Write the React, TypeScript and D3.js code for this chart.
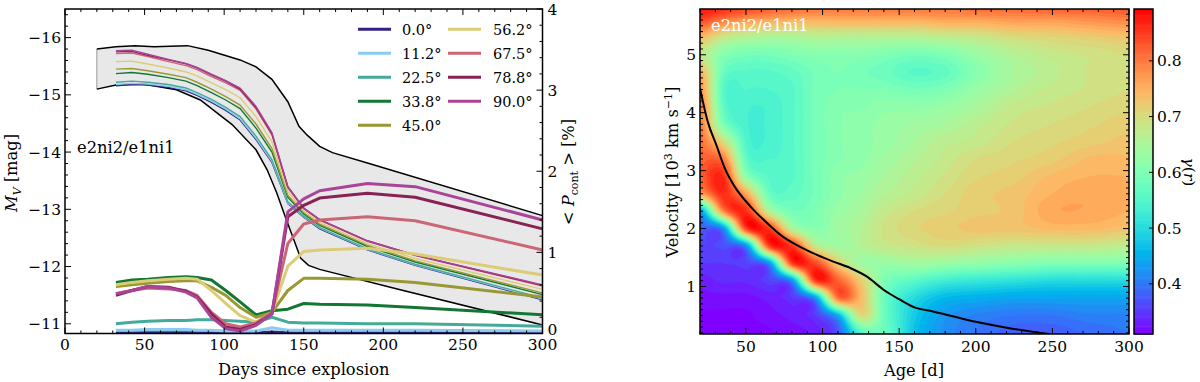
import React, { useMemo } from 'react';
import * as d3 from 'd3';

// ---------------- Left panel data ----------------
const angleLabels = ['0.0°', '11.2°', '22.5°', '33.8°', '45.0°', '56.2°', '67.5°', '78.8°', '90.0°'];
const angleColors = ['#332288', '#88CCEE', '#44AA99', '#117733', '#999933', '#DDCC77', '#CC6677', '#882255', '#AA4499'];

const lcDays = [32, 42, 52, 65, 76, 83, 92, 101, 110, 120, 130, 140, 150, 160, 190, 220, 300];

// V-band magnitudes per inclination
const mv00 = [-15.16, -15.18, -15.17, -15.13, -15.07, -14.99, -14.87, -14.73, -14.56, -14.22, -13.82, -13.10, -12.86, -12.66, -12.29, -12.02, -11.42];
const mv11 = [-15.18, -15.20, -15.19, -15.15, -15.09, -15.01, -14.89, -14.75, -14.58, -14.24, -13.84, -13.11, -12.87, -12.67, -12.30, -12.03, -11.43];
const mv22 = [-15.22, -15.24, -15.22, -15.18, -15.12, -15.04, -14.92, -14.78, -14.62, -14.28, -13.87, -13.13, -12.88, -12.68, -12.31, -12.04, -11.45];
const mv33 = [-15.37, -15.39, -15.36, -15.30, -15.24, -15.16, -15.04, -14.91, -14.76, -14.42, -14.00, -13.21, -12.92, -12.72, -12.35, -12.08, -11.51];
const mv45 = [-15.45, -15.46, -15.42, -15.36, -15.30, -15.22, -15.10, -14.97, -14.82, -14.49, -14.06, -13.24, -12.94, -12.74, -12.37, -12.10, -11.54];
const mv56 = [-15.58, -15.59, -15.54, -15.47, -15.40, -15.33, -15.21, -15.09, -14.95, -14.62, -14.18, -13.31, -12.97, -12.77, -12.40, -12.14, -11.60];
const mv67 = [-15.72, -15.73, -15.67, -15.58, -15.51, -15.44, -15.32, -15.21, -15.08, -14.75, -14.30, -13.38, -13.01, -12.81, -12.44, -12.19, -11.66];
const mv78 = [-15.75, -15.76, -15.69, -15.61, -15.54, -15.47, -15.35, -15.24, -15.10, -14.78, -14.32, -13.39, -13.02, -12.82, -12.45, -12.20, -11.67];
const mv90 = [-15.77, -15.78, -15.71, -15.62, -15.55, -15.48, -15.36, -15.25, -15.12, -14.80, -14.34, -13.40, -13.02, -12.82, -12.45, -12.20, -11.68];

// continuum polarisation [%] per inclination
const pol00 = [0.01, 0.01, 0.01, 0.01, 0.01, 0.01, 0.01, 0.01, 0.01, 0.01, 0.02, 0.01, 0.01, 0.01, 0.01, 0.01, 0.01];
const pol11 = [0.04, 0.04, 0.05, 0.05, 0.05, 0.04, 0.04, 0.03, 0.03, 0.03, 0.07, 0.04, 0.04, 0.04, 0.04, 0.04, 0.03];
const pol22 = [0.12, 0.14, 0.15, 0.16, 0.16, 0.17, 0.17, 0.16, 0.15, 0.14, 0.20, 0.14, 0.13, 0.13, 0.12, 0.12, 0.09];
const pol33 = [0.63, 0.66, 0.67, 0.69, 0.70, 0.69, 0.66, 0.53, 0.39, 0.23, 0.28, 0.30, 0.37, 0.36, 0.35, 0.32, 0.23];
const pol45 = [0.58, 0.60, 0.62, 0.64, 0.65, 0.65, 0.57, 0.47, 0.32, 0.20, 0.26, 0.53, 0.68, 0.68, 0.67, 0.63, 0.45];
const pol56 = [0.60, 0.63, 0.65, 0.67, 0.68, 0.67, 0.53, 0.37, 0.22, 0.14, 0.26, 0.83, 1.01, 1.03, 1.05, 0.98, 0.72];
const pol67 = [0.49, 0.53, 0.56, 0.55, 0.53, 0.47, 0.26, 0.12, 0.08, 0.13, 0.26, 1.11, 1.35, 1.40, 1.44, 1.39, 1.03];
const pol78 = [0.47, 0.53, 0.58, 0.57, 0.52, 0.45, 0.24, 0.08, 0.05, 0.11, 0.24, 1.44, 1.58, 1.67, 1.73, 1.68, 1.29];
const pol90 = [0.49, 0.53, 0.58, 0.56, 0.51, 0.44, 0.20, 0.06, 0.03, 0.10, 0.24, 1.50, 1.66, 1.76, 1.85, 1.81, 1.40];

const mvSeries = [mv00, mv11, mv22, mv33, mv45, mv56, mv67, mv78, mv90];
const polSeries = [pol00, pol11, pol22, pol33, pol45, pol56, pol67, pol78, pol90];

// envelope band (light curves of the two reference models)
const bandUpperDays = [20, 32, 44, 56, 66, 77, 90, 110, 120, 130, 140, 147, 152, 160, 168, 190, 300];
const bandUpperMag = [-15.80, -15.84, -15.86, -15.84, -15.85, -15.86, -15.78, -15.61, -15.49, -15.27, -14.88, -14.45, -14.30, -14.10, -13.99, -13.81, -12.89];
const bandLowerDays = [20, 32, 49, 70, 85, 105, 120, 127, 133, 139, 144, 148, 153, 160, 210, 300];
const bandLowerMag = [-15.10, -15.17, -15.19, -15.09, -14.91, -14.48, -14.04, -13.69, -13.29, -12.82, -12.45, -12.15, -12.02, -11.95, -11.60, -10.98];

const leftYTicks = [-16, -15, -14, -13, -12, -11];
const leftXTicks = [0, 50, 100, 150, 200, 250, 300];
const polTicks = [0, 1, 2, 3, 4];

// ---------------- Right panel data ----------------
const ageGrid = [20, 35, 50, 65, 80, 95, 110, 125, 140, 160, 180, 200, 225, 250, 275, 300];
// gamma(r) rows, from velocity 5.8 (top) down to 0.2 (bottom)
const velGrid = [5.8, 5.6, 5.3, 5.0, 4.7, 4.4, 4.1, 3.8, 3.5, 3.2, 2.9, 2.6, 2.3, 2.0, 1.7, 1.4, 1.1, 0.8, 0.5, 0.2];
const gV58 = [0.88, 0.86, 0.84, 0.82, 0.81, 0.80, 0.80, 0.80, 0.80, 0.80, 0.80, 0.81, 0.81, 0.82, 0.82, 0.83];
const gV56 = [0.84, 0.80, 0.77, 0.76, 0.75, 0.75, 0.75, 0.75, 0.75, 0.75, 0.76, 0.76, 0.77, 0.77, 0.78, 0.79];
const gV53 = [0.74, 0.68, 0.66, 0.65, 0.65, 0.66, 0.66, 0.66, 0.66, 0.66, 0.67, 0.68, 0.70, 0.71, 0.72, 0.73];
const gV50 = [0.68, 0.61, 0.59, 0.59, 0.60, 0.61, 0.61, 0.61, 0.60, 0.59, 0.60, 0.63, 0.66, 0.68, 0.69, 0.70];
const gV47 = [0.75, 0.58, 0.56, 0.56, 0.57, 0.59, 0.60, 0.59, 0.58, 0.56, 0.57, 0.61, 0.65, 0.67, 0.69, 0.70];
const gV44 = [0.78, 0.56, 0.55, 0.55, 0.56, 0.59, 0.60, 0.60, 0.60, 0.59, 0.60, 0.63, 0.66, 0.68, 0.69, 0.70];
const gV41 = [0.80, 0.57, 0.54, 0.54, 0.56, 0.59, 0.61, 0.61, 0.62, 0.62, 0.63, 0.65, 0.68, 0.69, 0.70, 0.71];
const gV38 = [0.80, 0.60, 0.54, 0.54, 0.56, 0.59, 0.61, 0.62, 0.63, 0.64, 0.65, 0.67, 0.69, 0.70, 0.71, 0.72];
const gV35 = [0.81, 0.70, 0.55, 0.54, 0.56, 0.59, 0.61, 0.62, 0.63, 0.65, 0.67, 0.68, 0.70, 0.71, 0.72, 0.73];
const gV32 = [0.82, 0.80, 0.57, 0.55, 0.56, 0.59, 0.61, 0.62, 0.64, 0.66, 0.68, 0.70, 0.71, 0.72, 0.74, 0.74];
const gV29 = [0.82, 0.86, 0.62, 0.56, 0.56, 0.59, 0.62, 0.63, 0.65, 0.67, 0.69, 0.71, 0.72, 0.74, 0.75, 0.75];
const gV26 = [0.76, 0.86, 0.76, 0.58, 0.57, 0.59, 0.62, 0.64, 0.66, 0.68, 0.70, 0.72, 0.73, 0.75, 0.76, 0.75];
const gV23 = [0.43, 0.78, 0.86, 0.66, 0.59, 0.60, 0.63, 0.65, 0.68, 0.70, 0.71, 0.72, 0.73, 0.76, 0.76, 0.75];
const gV20 = [0.38, 0.42, 0.84, 0.85, 0.66, 0.61, 0.64, 0.66, 0.69, 0.71, 0.72, 0.73, 0.73, 0.74, 0.74, 0.73];
const gV17 = [0.36, 0.37, 0.42, 0.84, 0.85, 0.68, 0.64, 0.66, 0.68, 0.69, 0.70, 0.69, 0.68, 0.68, 0.68, 0.67];
const gV14 = [0.35, 0.35, 0.36, 0.42, 0.84, 0.84, 0.72, 0.64, 0.63, 0.64, 0.63, 0.62, 0.61, 0.60, 0.60, 0.60];
const gV11 = [0.33, 0.34, 0.34, 0.36, 0.42, 0.84, 0.82, 0.72, 0.60, 0.56, 0.53, 0.52, 0.51, 0.50, 0.50, 0.50];
const gV08 = [0.32, 0.32, 0.32, 0.33, 0.35, 0.42, 0.80, 0.74, 0.58, 0.50, 0.46, 0.45, 0.44, 0.44, 0.44, 0.44];
const gV05 = [0.31, 0.31, 0.31, 0.32, 0.33, 0.35, 0.45, 0.70, 0.58, 0.48, 0.43, 0.41, 0.40, 0.40, 0.41, 0.41];
const gV02 = [0.31, 0.31, 0.31, 0.31, 0.32, 0.33, 0.37, 0.55, 0.58, 0.47, 0.42, 0.40, 0.38, 0.38, 0.39, 0.40];
const gammaRows = [gV58, gV56, gV53, gV50, gV47, gV44, gV41, gV38, gV35, gV32, gV29, gV26, gV23, gV20, gV17, gV14, gV11, gV08, gV05, gV02];

// photosphere velocity curve
const photAge = [20, 25, 31, 36, 42, 53, 64, 74, 85, 96, 107, 118, 129, 140, 150, 161, 172, 200, 222, 248];
const photVel = [4.42, 3.85, 3.42, 3.05, 2.75, 2.38, 2.09, 1.86, 1.69, 1.55, 1.43, 1.32, 1.17, 0.94, 0.78, 0.63, 0.57, 0.39, 0.28, 0.18];

const velTicks = [1, 2, 3, 4, 5];
const ageTicks = [50, 100, 150, 200, 250, 300];
const cbTicks = [0.4, 0.5, 0.6, 0.7, 0.8];

const CB_MIN = 0.31;
const CB_MAX = 0.893;

// ---------------- Scales ----------------
const LX0 = 65, LX1 = 542.5, LY0 = 9, LY1 = 333.5;
const lx = d3.scaleLinear().domain([0, 300]).range([LX0, LX1]);
const ly = d3.scaleLinear().domain([-16.5, -10.83]).range([LY0, LY1]);
const ry = d3.scaleLinear().domain([0, 4]).range([LY1, LY0]);

const HX0 = 700, HX1 = 1129, HY0 = 9, HY1 = 334;
const hx = d3.scaleLinear().domain([20, 300]).range([HX0, HX1]);
const hy = d3.scaleLinear().domain([0.18, 5.79]).range([HY1, HY0]);
const CBX0 = 1134, CBX1 = 1153;
const cy = d3.scaleLinear().domain([CB_MIN, CB_MAX]).range([HY1, HY0]);

const FONT = 'DejaVu Serif';

function rainbow(v: number): string {
  const t = Math.max(0, Math.min(1, (v - CB_MIN) / (CB_MAX - CB_MIN)));
  const r = Math.min(1, Math.abs(2 * t - 0.5));
  const g = Math.sin(Math.PI * t);
  const b = Math.cos((Math.PI * t) / 2);
  return d3.rgb(r * 255, g * 255, b * 255).formatHex();
}

// fractional index of x within a monotone grid
function fracIndex(arr: number[], x: number): number {
  const asc = arr[arr.length - 1] > arr[0];
  const n = arr.length;
  for (let i = 0; i < n - 1; i++) {
    const a = arr[i], b = arr[i + 1];
    const inside = asc ? x <= b : x >= b;
    if (inside || i === n - 2) {
      const t = (x - a) / (b - a);
      return Math.max(0, Math.min(n - 1, i + t));
    }
  }
  return 0;
}

function cubic(p0: number, p1: number, p2: number, p3: number, t: number) {
  return 0.5 * (2 * p1 + (-p0 + p2) * t + (2 * p0 - 5 * p1 + 4 * p2 - p3) * t * t + (-p0 + 3 * p1 - 3 * p2 + p3) * t * t * t);
}

function sampleGamma(age: number, vel: number): number {
  const fi = fracIndex(ageGrid, age);
  const fj = fracIndex(velGrid, vel);
  const nI = ageGrid.length, nJ = velGrid.length;
  const i1 = Math.min(nI - 2, Math.floor(fi));
  const j1 = Math.min(nJ - 2, Math.floor(fj));
  const ti = fi - i1, tj = fj - j1;
  const ci = (k: number) => Math.max(0, Math.min(nI - 1, k));
  const cj = (k: number) => Math.max(0, Math.min(nJ - 1, k));
  const rowVals = [-1, 0, 1, 2].map((dj) => {
    const r = gammaRows[cj(j1 + dj)];
    return cubic(r[ci(i1 - 1)], r[ci(i1)], r[ci(i1 + 1)], r[ci(i1 + 2)], ti);
  });
  const v = cubic(rowVals[0], rowVals[1], rowVals[2], rowVals[3], tj);
  return Math.max(0.305, Math.min(0.895, v));
}

function buildHeat() {
  const nx = 215;
  const ny = 163;
  const vals: number[] = new Array(nx * ny);
  for (let j = 0; j < ny; j++) {
    const py = HY0 + ((j + 0.5) * (HY1 - HY0)) / ny;
    const vel = hy.invert(py);
    for (let i = 0; i < nx; i++) {
      const px = HX0 + ((i + 0.5) * (HX1 - HX0)) / nx;
      vals[j * nx + i] = sampleGamma(hx.invert(px), vel);
    }
  }
  const levels = d3.range(0.30, 0.9, 0.0125);
  const contours = d3.contours().size([nx, ny]).thresholds(levels)(vals);
  const proj = d3.geoTransform({
    point(x: number, y: number) {
      (this as any).stream.point(HX0 + (x * (HX1 - HX0)) / nx, HY0 + (y * (HY1 - HY0)) / ny);
    },
  });
  const path = d3.geoPath(proj);
  return contours.map((c, k) => {
    const next = k + 1 < levels.length ? levels[k + 1] : c.value + 0.0125;
    return { d: path(c as any) || '', color: rainbow((c.value + next) / 2) };
  });
}

export default function App() {
  const heat = useMemo(() => buildHeat(), []);

  const mvLine = (s: number[]) =>
    d3.line<number>().x((_, i) => lx(lcDays[i])).y((d) => ly(d))(s) || '';
  const polLine = (s: number[]) =>
    d3.line<number>().x((_, i) => lx(lcDays[i])).y((d) => ry(d))(s) || '';

  const upperPts: [number, number][] = bandUpperDays.map((d, i) => [lx(d), ly(bandUpperMag[i])]);
  const lowerPts: [number, number][] = bandLowerDays.map((d, i) => [lx(d), ly(bandLowerMag[i])]);
  const bandPoly = [...upperPts, ...lowerPts.slice().reverse()];
  const lineGen = d3.line<[number, number]>();

  const photPath =
    d3.line<number>().x((_, i) => hx(photAge[i])).y((v) => hy(v)).curve(d3.curveMonotoneX)(photVel) || '';

  const MAJ = 6;
  const MIN = 3;
  const tk = { stroke: '#000', strokeWidth: 1 };

  // ---- left panel ticks ----
  const leftTicks: JSX.Element[] = [];
  d3.range(0, 301, 10).forEach((d) => {
    const x = lx(d);
    const L = d % 50 === 0 ? MAJ : MIN;
    leftTicks.push(<line key={'lb' + d} x1={x} x2={x} y1={LY1} y2={LY1 - L} {...tk} />);
    leftTicks.push(<line key={'lt' + d} x1={x} x2={x} y1={LY0} y2={LY0 + L} {...tk} />);
  });
  d3.range(-16.4, -10.8, 0.2).forEach((m, i) => {
    const y = ly(m);
    const isMaj = Math.abs(m - Math.round(m)) < 1e-6;
    leftTicks.push(<line key={'ll' + i} x1={LX0} x2={LX0 + (isMaj ? MAJ : MIN)} y1={y} y2={y} {...tk} />);
  });
  d3.range(0, 4.01, 0.2).forEach((p, i) => {
    const y = ry(p);
    const isMaj = Math.abs(p - Math.round(p)) < 1e-6;
    leftTicks.push(<line key={'lr' + i} x1={LX1} x2={LX1 - (isMaj ? MAJ : MIN)} y1={y} y2={y} {...tk} />);
  });

  // ---- right panel ticks ----
  const rightTicks: JSX.Element[] = [];
  d3.range(20, 301, 10).forEach((d) => {
    const x = hx(d);
    const L = d % 50 === 0 ? MAJ : MIN;
    rightTicks.push(<line key={'rb' + d} x1={x} x2={x} y1={HY1} y2={HY1 - L} {...tk} />);
    rightTicks.push(<line key={'rt' + d} x1={x} x2={x} y1={HY0} y2={HY0 + L} {...tk} />);
  });
  d3.range(0.2, 5.75, 0.1).forEach((v, i) => {
    const y = hy(v);
    const isMaj = Math.abs(v - Math.round(v)) < 1e-6;
    const L = isMaj ? MAJ : MIN;
    rightTicks.push(<line key={'rl' + i} x1={HX0} x2={HX0 + L} y1={y} y2={y} {...tk} />);
    rightTicks.push(<line key={'rr' + i} x1={HX1} x2={HX1 - L} y1={y} y2={y} {...tk} />);
  });

  const cbSteps = d3.range(CB_MIN, CB_MAX, 0.002);

  return (
    <svg
      width={1200}
      height={382}
      style={{ position: 'absolute', left: 0, top: 0, background: '#fff' }}
      fontFamily={FONT}
    >
      <defs>
        <clipPath id="lclip">
          <rect x={LX0} y={LY0} width={LX1 - LX0} height={LY1 - LY0} />
        </clipPath>
        <clipPath id="hclip">
          <rect x={HX0} y={HY0} width={HX1 - HX0} height={HY1 - HY0} />
        </clipPath>
      </defs>

      {/* ================= LEFT PANEL ================= */}
      <g clipPath="url(#lclip)">
        <path d={lineGen(bandPoly) + 'Z'} fill="#e8e8e8" stroke="none" />
        <line x1={upperPts[0][0]} x2={lowerPts[0][0]} y1={upperPts[0][1]} y2={lowerPts[0][1]} stroke="#9a9a9a" strokeWidth={1} />
        <path d={lineGen(upperPts) || ''} fill="none" stroke="#000" strokeWidth={1.5} />
        <path d={lineGen(lowerPts) || ''} fill="none" stroke="#000" strokeWidth={1.5} />
        {mvSeries.map((s, k) => (
          <path key={'mv' + k} d={mvLine(s)} fill="none" stroke={angleColors[k]} strokeWidth={1.4} />
        ))}
        {polSeries.map((s, k) => (
          <path key={'pol' + k} d={polLine(s)} fill="none" stroke={angleColors[k]} strokeWidth={3} strokeLinejoin="round" />
        ))}
      </g>
      <rect x={LX0} y={LY0} width={LX1 - LX0} height={LY1 - LY0} fill="none" stroke="#000" strokeWidth={1.5} />
      {leftTicks}

      {leftYTicks.map((m) => (
        <text key={'lyt' + m} x={LX0 - 4} y={ly(m) + 5.5} fontSize={15.5} textAnchor="end">
          {'\u2212' + Math.abs(m)}
        </text>
      ))}
      {leftXTicks.map((d) => (
        <text key={'lxt' + d} x={lx(d)} y={350} fontSize={15.5} textAnchor="middle">
          {d}
        </text>
      ))}
      {polTicks.map((p) => (
        <text key={'pt' + p} x={LX1 + 5} y={ry(p) + (p === 0 ? 1.5 : 5.5)} fontSize={15.5} textAnchor="start">
          {p}
        </text>
      ))}
      <text x={(LX0 + LX1) / 2} y={375} fontSize={16.3} textAnchor="middle">
        Days since explosion
      </text>
      <text transform={`translate(17,173) rotate(-90)`} fontSize={16.3} textAnchor="middle">
        <tspan fontStyle="italic">M</tspan>
        <tspan dy={4} fontSize={11} fontStyle="italic">V</tspan>
        <tspan dy={-4}> [mag]</tspan>
      </text>
      <text transform={`translate(574,172) rotate(-90)`} fontSize={16.3} textAnchor="middle">
        <tspan>{'< '}</tspan>
        <tspan fontStyle="italic">P</tspan>
        <tspan dy={4} fontSize={11}>cont</tspan>
        <tspan dy={-4}>{' > [%]'}</tspan>
      </text>
      <text x={77} y={153} fontSize={16.3}>
        e2ni2/e1ni1
      </text>

      {/* legend */}
      {angleLabels.map((lab, k) => {
        const col = k < 5 ? 0 : 1;
        const row = k < 5 ? k : k - 5;
        const yy = 29.3 + row * 24;
        const xl = col === 0 ? 358 : 448;
        const xt = col === 0 ? 402 : 493;
        return (
          <g key={'leg' + k}>
            <line x1={xl} x2={xl + 33} y1={yy} y2={yy} stroke={angleColors[k]} strokeWidth={3} />
            <text x={xt} y={yy + 5.5} fontSize={14.5}>
              {lab}
            </text>
          </g>
        );
      })}

      {/* ================= RIGHT PANEL ================= */}
      <g clipPath="url(#hclip)">
        <rect x={HX0} y={HY0} width={HX1 - HX0} height={HY1 - HY0} fill={rainbow(0.30)} />
        {heat.map((c, k) => (
          <path key={'hc' + k} d={c.d} fill={c.color} stroke={c.color} strokeWidth={0.4} />
        ))}
        <path d={photPath} fill="none" stroke="#000" strokeWidth={2} />
      </g>
      <rect x={HX0} y={HY0} width={HX1 - HX0} height={HY1 - HY0} fill="none" stroke="#000" strokeWidth={1.5} />
      {rightTicks}
      <text x={711} y={31} fontSize={16.3} fill="#fff">
        e2ni2/e1ni1
      </text>
      {velTicks.map((v) => (
        <text key={'vt' + v} x={HX0 - 4} y={hy(v) + 5.5} fontSize={15.5} textAnchor="end">
          {v}
        </text>
      ))}
      {ageTicks.map((a) => (
        <text key={'at' + a} x={hx(a)} y={352} fontSize={15.5} textAnchor="middle">
          {a}
        </text>
      ))}
      <text x={914} y={376} fontSize={16.3} textAnchor="middle">
        Age [d]
      </text>
      <text transform={`translate(678,172) rotate(-90)`} fontSize={16.3} textAnchor="middle">
        <tspan>Velocity [10</tspan>
        <tspan dy={-6} fontSize={11}>3</tspan>
        <tspan dy={6}> km s</tspan>
        <tspan dy={-6} fontSize={11}>{'\u22121'}</tspan>
        <tspan dy={6}>]</tspan>
      </text>

      {/* colorbar */}
      {cbSteps.map((v, i) => {
        const yTop = cy(Math.min(CB_MAX, v + 0.002));
        const yBot = cy(v);
        return (
          <rect key={'cb' + i} x={CBX0} y={yTop} width={CBX1 - CBX0} height={yBot - yTop + 0.6} fill={rainbow(v + 0.001)} />
        );
      })}
      <rect x={CBX0} y={HY0} width={CBX1 - CBX0} height={HY1 - HY0} fill="none" stroke="#000" strokeWidth={1.5} />
      {cbTicks.map((t) => (
        <g key={'cbt' + t}>
          <line x1={CBX1} x2={CBX1 - 4} y1={cy(t)} y2={cy(t)} stroke="#000" strokeWidth={1} />
          <text x={CBX1 + 4} y={cy(t) + 5.5} fontSize={15.5}>
            {t.toFixed(1)}
          </text>
        </g>
      ))}
      <text transform={`translate(1184,172) rotate(90)`} fontSize={15.5} textAnchor="middle">
        <tspan fontStyle="italic">γ</tspan>
        <tspan>(</tspan>
        <tspan fontStyle="italic">r</tspan>
        <tspan>)</tspan>
      </text>
    </svg>
  );
}
